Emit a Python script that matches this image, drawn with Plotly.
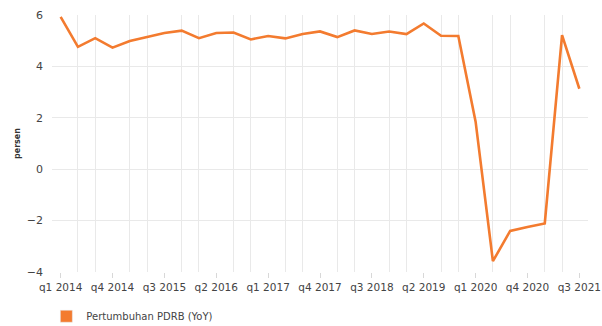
import plotly.graph_objects as go

# Quarterly regional GDP growth (PDRB, year-on-year, percent)
quarters = [
    "q1 2014", "q2 2014", "q3 2014", "q4 2014",
    "q1 2015", "q2 2015", "q3 2015", "q4 2015",
    "q1 2016", "q2 2016", "q3 2016", "q4 2016",
    "q1 2017", "q2 2017", "q3 2017", "q4 2017",
    "q1 2018", "q2 2018", "q3 2018", "q4 2018",
    "q1 2019", "q2 2019", "q3 2019", "q4 2019",
    "q1 2020", "q2 2020", "q3 2020", "q4 2020",
    "q1 2021", "q2 2021", "q3 2021",
]
growth = [
    5.93, 4.76, 5.10, 4.73,
    4.99, 5.15, 5.30, 5.39,
    5.10, 5.30, 5.32, 5.05,
    5.18, 5.09, 5.26, 5.36,
    5.14, 5.40, 5.26, 5.36,
    5.26, 5.67, 5.19, 5.18,
    1.85, -3.58, -2.40, -2.25,
    -2.11, 5.22, 3.13,
]
y_ticks = [-4, -2, 0, 2, 4, 6]

series_name = "Pertumbuhan PDRB (YoY)"
orange = "#F37B2F"
grid = "#e9e9e9"
text_col = "#444444"

x_pos = list(range(len(quarters)))
label_idx = [i for i in x_pos if i % 3 == 0]
minor_idx = [i for i in x_pos if i % 3 != 0]

fig = go.Figure()
fig.add_trace(go.Scatter(
    x=x_pos, y=growth, mode="lines",
    line=dict(color=orange, width=2.6),
    text=quarters, hovertemplate="%{text}: %{y}<extra></extra>",
    showlegend=False,
))
# legend entry drawn as a filled square
fig.add_trace(go.Bar(
    x=[None], y=[None], name=series_name,
    marker=dict(color=orange), showlegend=True,
))

fig.update_layout(
    width=602, height=326,
    margin=dict(l=52, r=14, t=15, b=54),
    plot_bgcolor="white", paper_bgcolor="white",
    font=dict(family="DejaVu Sans", size=10, color=text_col),
    legend=dict(
        orientation="h",
        xref="container", x=0.077, xanchor="left",
        yref="container", y=0.03, yanchor="middle",
        font=dict(size=10, color="#444444"),
        itemwidth=30,
    ),
)
fig.update_xaxes(
    range=[-0.5, len(quarters) - 0.5],
    tickmode="array", tickvals=label_idx,
    ticktext=[quarters[i] for i in label_idx],
    showgrid=False, zeroline=False,
    ticks="outside", ticklen=5, tickcolor="#d8d8d8", tickwidth=1,
    tickfont=dict(size=10.5, color=text_col),
    minor=dict(tickvals=minor_idx, showgrid=True, gridcolor=grid, gridwidth=1, ticks=""),
    showline=False, automargin=False,
)
fig.update_yaxes(
    range=[-4, 6], tickvals=y_ticks,
    showgrid=True, gridcolor=grid, gridwidth=1,
    zeroline=True, zerolinecolor=grid, zerolinewidth=1,
    tickfont=dict(size=11, color=text_col),
    ticklabelstandoff=8,
    title=dict(text="<b>persen</b>", font=dict(size=8, color="#333333"), standoff=4),
    automargin=False,
)

fig.write_html("out.html")
